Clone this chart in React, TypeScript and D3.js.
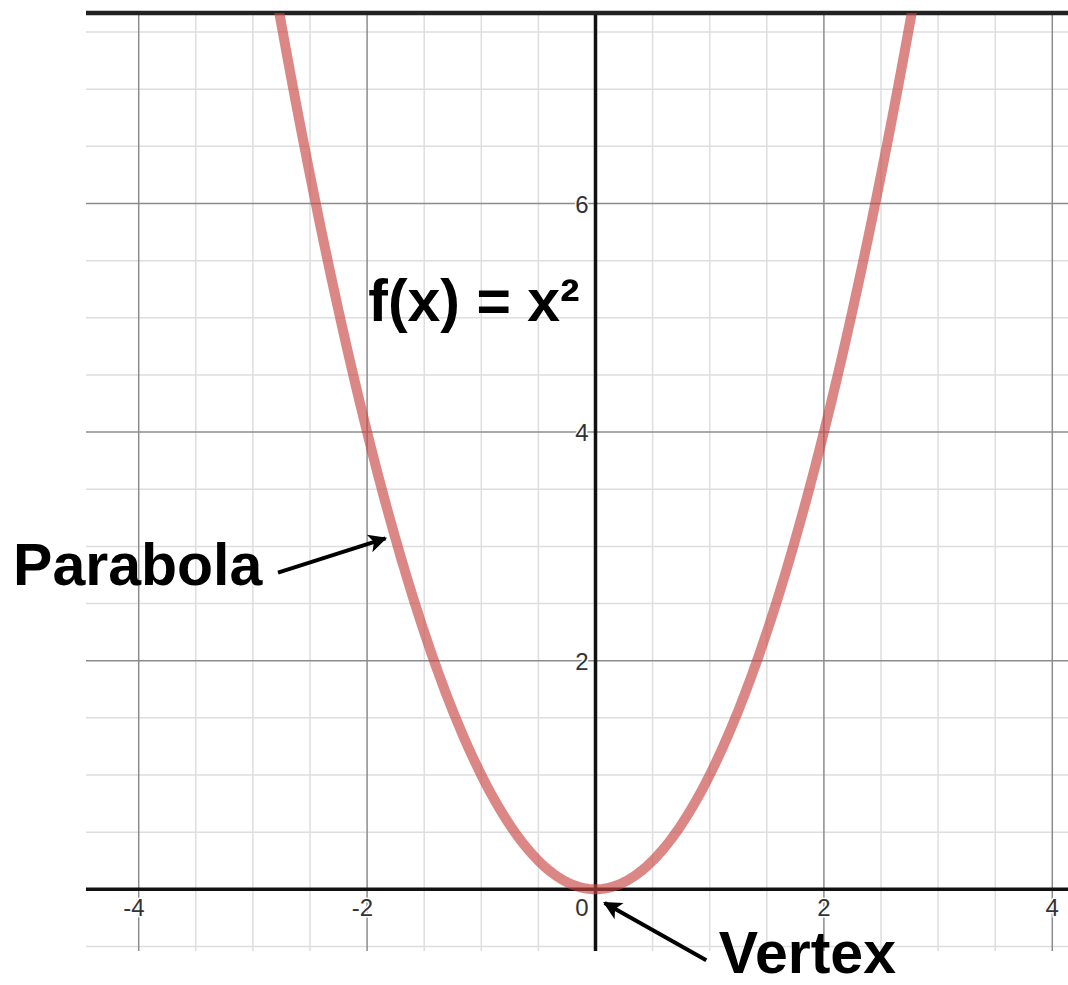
import React from "react";
import * as d3 from "d3";

// Function plotted: f(x) = x^2
const curveXs: number[] = d3.range(-2.9, 2.9001, 0.02);
const xTickValues: number[] = [-4, -2, 0, 2, 4];
const yTickValues: number[] = [2, 4, 6];
const xTickLabels: string[] = ["-4", "-2", "0", "2", "4"];
const yTickLabels: string[] = ["2", "4", "6"];

// Annotation anchors in graph units
const parabolaLabel = { text: "Parabola", x: -5.1, y: 2.66 };
const parabolaArrow = { from: [-2.78, 2.77], to: [-1.84, 3.07] };
const vertexLabel = { text: "Vertex", x: 1.08, y: -0.73 };
const vertexArrow = { from: [0.97, -0.62], to: [0.08, -0.12] };
const formulaLabel = { text: "f(x) = x²", x: -1.99, y: 4.97 };

const W = 1068;
const H = 985;
const plot = { left: 86, right: 1068, top: 13, bottom: 951 };
const X0 = 595.5;
const Y0 = 889.3;
const UX = 114.2;
const UY = 114.3;

const x = d3
  .scaleLinear()
  .domain([(plot.left - X0) / UX, (plot.right - X0) / UX])
  .range([plot.left, plot.right]);
const y = d3
  .scaleLinear()
  .domain([(Y0 - plot.bottom) / UY, (Y0 - plot.top) / UY])
  .range([plot.bottom, plot.top]);

const FONT = "Arial, 'Liberation Sans', Helvetica, sans-serif";

function halfSteps(lo: number, hi: number): number[] {
  const out: number[] = [];
  for (let v = Math.ceil(lo * 2) / 2; v <= hi + 1e-9; v += 0.5) out.push(+v.toFixed(2));
  return out;
}

export default function App() {
  const [xd0, xd1] = x.domain();
  const [yd0, yd1] = y.domain();
  const xGrid = halfSteps(xd0, xd1);
  const yGrid = halfSteps(yd0, yd1);
  const isMajor = (v: number) => Math.abs(v / 2 - Math.round(v / 2)) < 1e-6;

  const line = d3
    .line<number>()
    .x((d) => x(d))
    .y((d) => y(d * d))
    .curve(d3.curveLinear);

  const arrow = (a: { from: number[]; to: number[] }, id: string) => (
    <line
      key={id}
      x1={x(a.from[0])}
      y1={y(a.from[1])}
      x2={x(a.to[0])}
      y2={y(a.to[1])}
      stroke="#000"
      strokeWidth={4}
      markerEnd="url(#arrowHead)"
    />
  );

  return (
    <svg
      width={W}
      height={H}
      style={{ position: "absolute", left: 0, top: 0, background: "#fff" }}
    >
      <defs>
        <clipPath id="plotClip">
          <rect x={plot.left} y={plot.top} width={plot.right - plot.left} height={plot.bottom - plot.top} />
        </clipPath>
        <marker
          id="arrowHead"
          viewBox="0 0 10 10"
          refX="9"
          refY="5"
          markerWidth="5.5"
          markerHeight="4.6"
          markerUnits="strokeWidth"
          orient="auto"
        >
          <path d="M0,0 L10,5 L0,10 L2.5,5 Z" fill="#000" />
        </marker>
      </defs>
      <rect x={0} y={0} width={W} height={H} fill="#fff" />

      {/* minor grid */}
      <g stroke="#dedede" strokeWidth={1.5}>
        {xGrid.filter((v) => !isMajor(v)).map((v) => (
          <line key={"mx" + v} x1={x(v)} x2={x(v)} y1={plot.top} y2={plot.bottom} />
        ))}
        {yGrid.filter((v) => !isMajor(v)).map((v) => (
          <line key={"my" + v} x1={plot.left} x2={plot.right} y1={y(v)} y2={y(v)} />
        ))}
      </g>
      {/* major grid */}
      <g stroke="#8c8c8c" strokeWidth={1.5}>
        {xGrid.filter((v) => isMajor(v) && v !== 0).map((v) => (
          <line key={"Mx" + v} x1={x(v)} x2={x(v)} y1={plot.top} y2={plot.bottom} />
        ))}
        {yGrid.filter((v) => isMajor(v) && v !== 0).map((v) => (
          <line key={"My" + v} x1={plot.left} x2={plot.right} y1={y(v)} y2={y(v)} />
        ))}
      </g>

      {/* axes */}
      <line x1={plot.left} x2={plot.right} y1={y(0)} y2={y(0)} stroke="#111" strokeWidth={3.5} />
      <line x1={x(0)} x2={x(0)} y1={plot.top} y2={plot.bottom} stroke="#111" strokeWidth={3.5} />
      <line x1={plot.left} x2={plot.right} y1={plot.top} y2={plot.top} stroke="#222" strokeWidth={4.5} />

      {/* tick labels */}
      <g
        fontFamily={FONT}
        fontSize={24}
        fill="#333"
        stroke="#fff"
        strokeWidth={3}
        style={{ paintOrder: "stroke" }}
      >
        {xTickValues.map((v, i) => {
          const label = xTickLabels[i];
          let tx = x(v);
          let anchor: "start" | "middle" | "end" = "middle";
          if (v < 0) {
            tx = x(v) + 6;
            anchor = "end";
          } else if (v === 0) {
            tx = x(0) - 7;
            anchor = "end";
          }
          return (
            <text key={"xt" + v} x={tx} y={y(0) + 27} textAnchor={anchor}>
              {label}
            </text>
          );
        })}
        {yTickValues.map((v, i) => (
          <text key={"yt" + v} x={x(0) - 7} y={y(v) + 9} textAnchor="end">
            {yTickLabels[i]}
          </text>
        ))}
      </g>

      {/* curve */}
      <g clipPath="url(#plotClip)">
        <path
          d={line(curveXs) || ""}
          fill="none"
          stroke="#c74440"
          strokeOpacity={0.64}
          strokeWidth={10}
          strokeLinejoin="round"
        />
      </g>

      {/* annotations */}
      <g fontFamily={FONT} fontWeight="bold" fontSize={59} fill="#000">
        <text x={x(formulaLabel.x)} y={y(formulaLabel.y)}>
          {formulaLabel.text}
        </text>
        <text x={x(parabolaLabel.x)} y={y(parabolaLabel.y)}>
          {parabolaLabel.text}
        </text>
        <text x={x(vertexLabel.x)} y={y(vertexLabel.y)}>
          {vertexLabel.text}
        </text>
      </g>
      {arrow(parabolaArrow, "pa")}
      {arrow(vertexArrow, "va")}
    </svg>
  );
}
